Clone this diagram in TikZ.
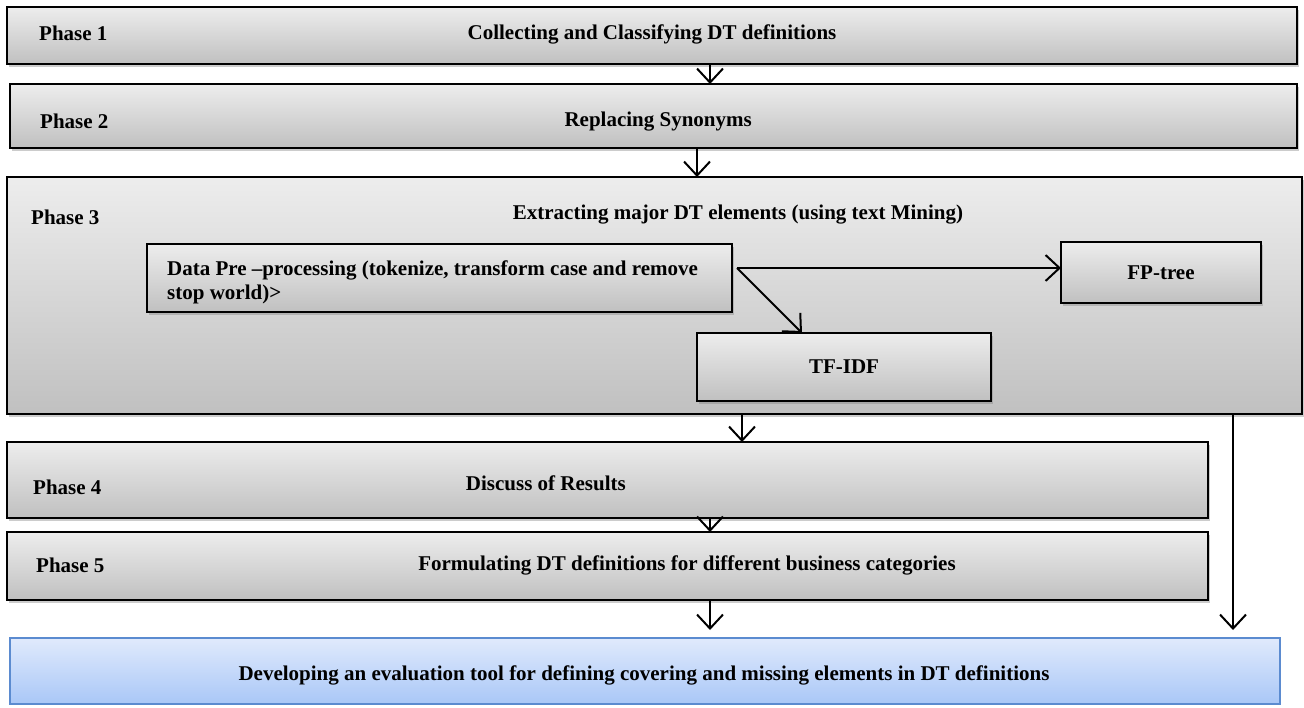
\documentclass[tikz,border=0pt]{standalone}
\usepackage{fontspec}
\setmainfont{Liberation Serif}
\usetikzlibrary{arrows.meta,shadows,calc}
\definecolor{gtop}{HTML}{EDEDED}
\definecolor{gbot}{HTML}{C0C0C0}
\definecolor{btop}{HTML}{E0EAFC}
\definecolor{bbot}{HTML}{A9C7F7}
\definecolor{bborder}{HTML}{5B8BD0}
\begin{document}
\begin{tikzpicture}[x=1pt,y=-1pt,
  greybox/.style={draw=black,line width=1.6pt,top color=gtop,bottom color=gbot,
    drop shadow={shadow xshift=2pt,shadow yshift=-2.5pt,opacity=0.4},
    anchor=north west,inner sep=0pt,outer sep=0pt},
  bluebox/.style={draw=bborder,line width=1.2pt,top color=btop,bottom color=bbot,
    anchor=north west,inner sep=0pt,outer sep=0pt},
  txt/.style={font=\fontsize{21}{24}\selectfont\bfseries,inner sep=0pt},
  arr/.style={line width=2pt,-{Straight Barb[length=14pt,width=26pt,line width=2pt]}}]
\useasboundingbox (0,0) rectangle (1304,707);

% boxes
\node[greybox,minimum width=1290pt,minimum height=57pt] (p1) at (7,7) {};
\node[greybox,minimum width=1287pt,minimum height=64pt] (p2) at (10,84) {};
\node[greybox,minimum width=1295pt,minimum height=237pt] (p3) at (7,177) {};
\node[greybox,minimum width=585pt,minimum height=68pt] (dp) at (147,244) {};
\node[greybox,minimum width=200pt,minimum height=61pt,txt] (fp) at (1061,242) {FP-tree};
\node[greybox,minimum width=294pt,minimum height=68pt,txt] (tf) at (697,333) {TF-IDF};
\node[greybox,minimum width=1201pt,minimum height=76pt] (p4) at (7,442) {};
\node[greybox,minimum width=1201pt,minimum height=68pt] (p5) at (7,532) {};
\node[bluebox,minimum width=1270pt,minimum height=66pt] (fin) at (10,638) {};

% texts
\node[txt,anchor=base west] (l1) at (39,40) {Phase 1};
\node[txt,anchor=base] (t1) at (652,39) {Collecting and Classifying DT definitions};
\node[txt,anchor=base west] (l2) at (40,128) {Phase 2};
\node[txt,anchor=base east] (t2) at (752,126) {Replacing Synonyms};
\node[txt,anchor=base west] (l3) at (31,224) {Phase 3};
\node[txt,anchor=base] (t3) at (738,219) {Extracting major DT elements (using text Mining)};
\node[txt,anchor=north west,align=left] (tdp) at (167,261) {Data Pre –processing (tokenize, transform case and remove\\stop world)>};
\node[txt,anchor=base west] (l4) at (33,494) {Phase 4};
\node[txt,anchor=base east] (t4) at (626,490) {Discuss of Results};
\node[txt,anchor=base west] (l5) at (36,572) {Phase 5};
\node[txt,anchor=base] (t5) at (687,570) {Formulating DT definitions for different business categories};
\node[txt,anchor=base] (tfin) at (644,680) {Developing an evaluation tool for defining covering and missing elements in DT definitions};

% connector helpers
\coordinate (c12) at (710,0);
\coordinate (c23) at (697,0);
\coordinate (c34) at (742,0);
\coordinate (c45) at (710,0);
\coordinate (c5f) at (710,0);
\coordinate (c3f) at (1233,0);
\coordinate (split) at (737,268);
\coordinate (tfin1) at (802,0);

% connectors
\draw[arr] (p1.south -| c12) -- (p2.north -| c12);
\draw[arr] (p2.south -| c23) -- (p3.north -| c23);
\draw[arr] (split) -- (split -| fp.west);
\draw[arr] (split) -- (tf.north -| tfin1);
\draw[arr] (p3.south -| c34) -- (p4.north -| c34);
\draw[arr] (p4.south -| c45) -- (p5.north -| c45);
\draw[arr] (p5.south -| c5f) -- ($(fin.north -| c5f)+(0,-8)$);
\draw[arr] (p3.south -| c3f) -- ($(fin.north -| c3f)+(0,-8)$);
\end{tikzpicture}
\end{document}
